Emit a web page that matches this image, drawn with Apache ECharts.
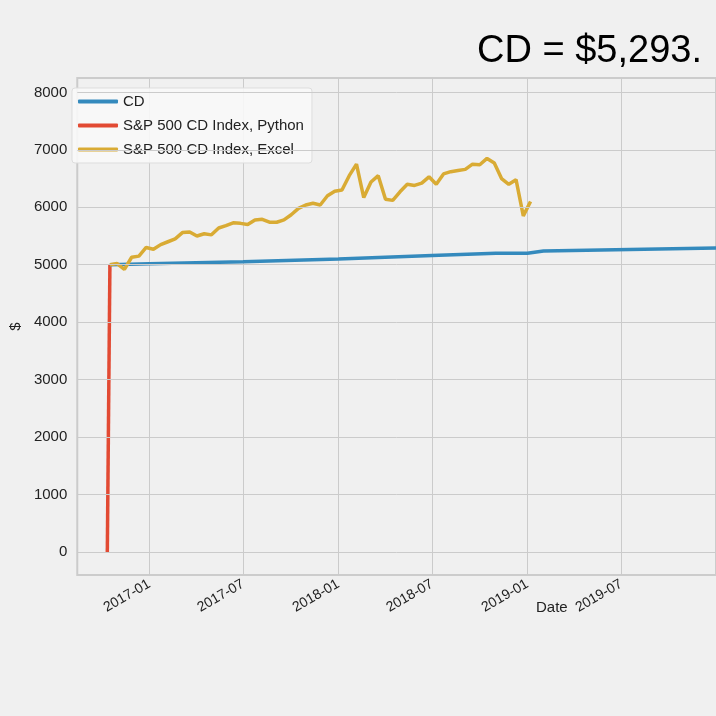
<!DOCTYPE html>
<html><head><meta charset="utf-8">
<script src="https://cdn.jsdelivr.net/npm/echarts@6/dist/echarts.min.js"></script>
<style>html,body{margin:0;padding:0;background:#f0f0f0;overflow:hidden}#c{width:716px;height:716px}</style>
</head><body><div id="c"></div>
<script>
const excelDates = ["2016-10-17","2016-10-31","2016-11-14","2016-11-28","2016-12-12","2016-12-26","2017-01-09","2017-01-23","2017-02-06","2017-02-20","2017-03-06","2017-03-20","2017-04-03","2017-04-17","2017-05-01","2017-05-15","2017-05-29","2017-06-12","2017-06-26","2017-07-10","2017-07-24","2017-08-07","2017-08-21","2017-09-04","2017-09-18","2017-10-02","2017-10-16","2017-10-30","2017-11-13","2017-11-27","2017-12-11","2017-12-25","2018-01-08","2018-01-22","2018-02-05","2018-02-19","2018-03-05","2018-03-19","2018-04-02","2018-04-16","2018-04-30","2018-05-14","2018-05-28","2018-06-11","2018-06-25","2018-07-09","2018-07-23","2018-08-06","2018-08-20","2018-09-03","2018-09-17","2018-10-01","2018-10-15","2018-10-29","2018-11-12","2018-11-26","2018-12-10","2018-12-24","2019-01-07"];
const excelValues = [5000,5020,4920,5130,5150,5300,5270,5350,5400,5450,5560,5570,5500,5540,5520,5640,5680,5730,5720,5700,5780,5790,5740,5740,5780,5870,5980,6040,6070,6040,6200,6280,6300,6550,6750,6170,6440,6550,6140,6120,6270,6400,6380,6420,6530,6400,6580,6620,6640,6660,6750,6740,6850,6770,6500,6400,6480,5850,6100];
const pythonDates = ["2016-10-12","2016-10-17"];
const pythonValues = [0,5000];
const cdDates = ["2016-10-17","2017-01-01","2017-07-01","2018-01-01","2018-07-01","2018-11-01","2019-01-01","2019-02-01","2019-12-31"];
const cdValues = [5000,5015,5050,5100,5160,5200,5200,5240,5293];
const yTicks = [0,1000,2000,3000,4000,5000,6000,7000,8000];
const titleText = "CD = $5,293.";

const pair = (d,v)=>d.map((x,i)=>[x,v[i]]);
const chart = echarts.init(document.getElementById('c'));
const font = 'Liberation Sans, Arial, sans-serif';
chart.setOption({
  backgroundColor:'#f0f0f0',
  animation:false,
  title:{text:titleText,left:472,top:28,textStyle:{fontSize:38,fontWeight:'normal',color:'#000',fontFamily:font}},
  legend:{left:72,top:88,orient:'vertical',itemWidth:40,itemHeight:4,itemGap:9,
    backgroundColor:'rgba(248,248,248,0.9)',borderColor:'#dddddd',borderWidth:1,borderRadius:3,padding:[6,8,6,6],
    textStyle:{fontSize:15,color:'#222',fontFamily:font},
    data:['CD','S&P 500 CD Index, Python','S&P 500 CD Index, Excel'].map(n=>({name:n,icon:'roundRect'}))},
  grid:{left:62,top:78,width:920,height:497,show:true,backgroundColor:'#f0f0f0',borderColor:'#cccccc',borderWidth:2},
  xAxis:{type:'time',min:'2016-08-15',max:'2019-12-31',minInterval:183*86400000,maxInterval:183*86400000,
    name:'Date',nameLocation:'start',nameGap:-528,nameTextStyle:{fontSize:15,color:'#222',fontFamily:font,verticalAlign:'top',padding:[48,0,0,0]},
    axisLine:{show:false},axisTick:{show:false},
    splitLine:{show:true,lineStyle:{color:'#cbcbcb',width:1}},
    axisLabel:{rotate:30,fontSize:14,color:'#222',fontFamily:font,margin:8,
      formatter:v=>{const d=new Date(v);return d.getFullYear()+'-'+String(d.getMonth()+1).padStart(2,'0');}}},
  yAxis:{type:'value',min:-400,max:8250,interval:200,
    name:'$',nameLocation:'middle',nameGap:46,nameTextStyle:{fontSize:15,color:'#222',fontFamily:font},
    axisLine:{show:false},axisTick:{show:false},splitLine:{show:false},
    axisLabel:{fontSize:15,color:'#222',fontFamily:font,margin:10,
      formatter:v=>(v>=0&&v%1000===0)?String(v):''}},
  series:[
    {name:'grid',type:'line',data:[],silent:true,
      markLine:{symbol:'none',silent:true,label:{show:false},lineStyle:{color:'#cbcbcb',width:1,type:'solid'},
        data:yTicks.map(t=>({yAxis:t}))}},
    {name:'CD',type:'line',data:pair(cdDates,cdValues),showSymbol:false,lineStyle:{width:3.5,color:'#348abd'},itemStyle:{color:'#348abd'},z:3},
    {name:'S&P 500 CD Index, Python',type:'line',data:pair(pythonDates,pythonValues),showSymbol:false,lineStyle:{width:3.5,color:'#e24a33'},itemStyle:{color:'#e24a33'},z:2},
    {name:'S&P 500 CD Index, Excel',type:'line',data:pair(excelDates,excelValues),showSymbol:false,lineStyle:{width:3.5,color:'#d9ab34'},itemStyle:{color:'#d9ab34'},z:4}
  ]
});
</script></body></html>
